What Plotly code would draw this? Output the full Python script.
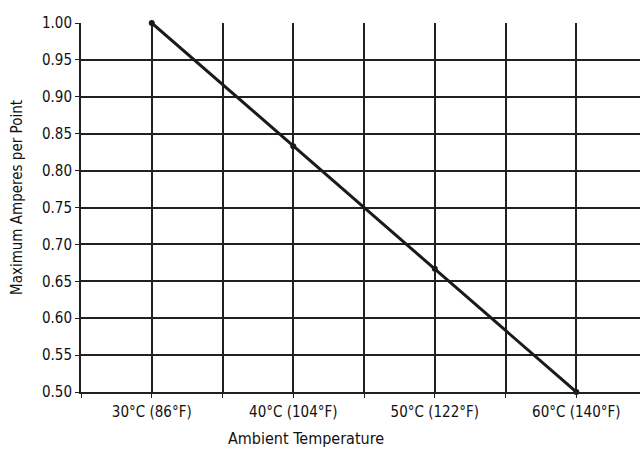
import plotly.graph_objects as go

temps_c = [30, 40, 50, 60]
tick_labels = ["30°C (86°F)", "40°C (104°F)", "50°C (122°F)", "60°C (140°F)"]
amperes = [1.00, 0.833, 0.667, 0.50]
y_ticks = [0.50, 0.55, 0.60, 0.65, 0.70, 0.75, 0.80, 0.85, 0.90, 0.95, 1.00]

FONT = "DejaVu Sans Condensed, Liberation Sans Narrow, sans-serif"
INK = "#231f20"

W, H = 640, 459
L, T, B = 81, 23, 459 - 392
PW, PH = W - L, H - T - B

fig = go.Figure()
fig.add_trace(go.Scatter(
    x=temps_c, y=amperes, mode="lines+markers",
    line=dict(color="#1a1a1a", width=3),
    marker=dict(color="#1a1a1a", size=6),
    cliponaxis=False, showlegend=False, hoverinfo="skip",
))

fig.update_layout(
    width=W, height=H,
    margin=dict(l=L, r=0, t=T, b=B, pad=0),
    paper_bgcolor="white", plot_bgcolor="white",
    font=dict(family=FONT, size=15, color="#111"),
    xaxis=dict(
        range=[25, 64.5], tickvals=temps_c, ticktext=tick_labels,
        ticks="outside", ticklen=5, tickcolor="rgba(0,0,0,0)",
        showgrid=True, gridcolor=INK, gridwidth=2,
        showline=True, linecolor=INK, linewidth=2,
        minor=dict(dtick=5, tick0=25, showgrid=True, gridcolor=INK, gridwidth=2,
                   ticks="outside", ticklen=4, tickcolor=INK, tickwidth=1),
        zeroline=False, fixedrange=True,
        tickfont=dict(family=FONT, size=15, color="#111"),
    ),
    yaxis=dict(
        range=[0.5, 1.0], tickvals=y_ticks, tickformat=".2f",
        ticks="outside", ticklen=4, tickcolor=INK, tickwidth=1,
        showgrid=True, gridcolor=INK, gridwidth=2,
        showline=True, linecolor=INK, linewidth=2,
        zeroline=False, fixedrange=True,
        tickfont=dict(family=FONT, size=15, color="#111"),
    ),
    annotations=[
        dict(text="Ambient Temperature", xref="paper", yref="paper",
             x=(306 - L) / PW, y=(392 - 439) / PH, xanchor="center", yanchor="middle",
             showarrow=False, font=dict(family=FONT, size=16, color="#111")),
        dict(text="Maximum Amperes per Point", xref="paper", yref="paper",
             x=(17 - L) / PW, y=(392 - 198) / PH, xanchor="center", yanchor="middle",
             textangle=-90, showarrow=False, font=dict(family=FONT, size=15, color="#111")),
    ],
)

fig.write_html(
    "out.html",
    config={"displayModeBar": False, "staticPlot": True},
    post_script="document.body.style.margin='0';document.body.style.overflow='hidden';",
)
